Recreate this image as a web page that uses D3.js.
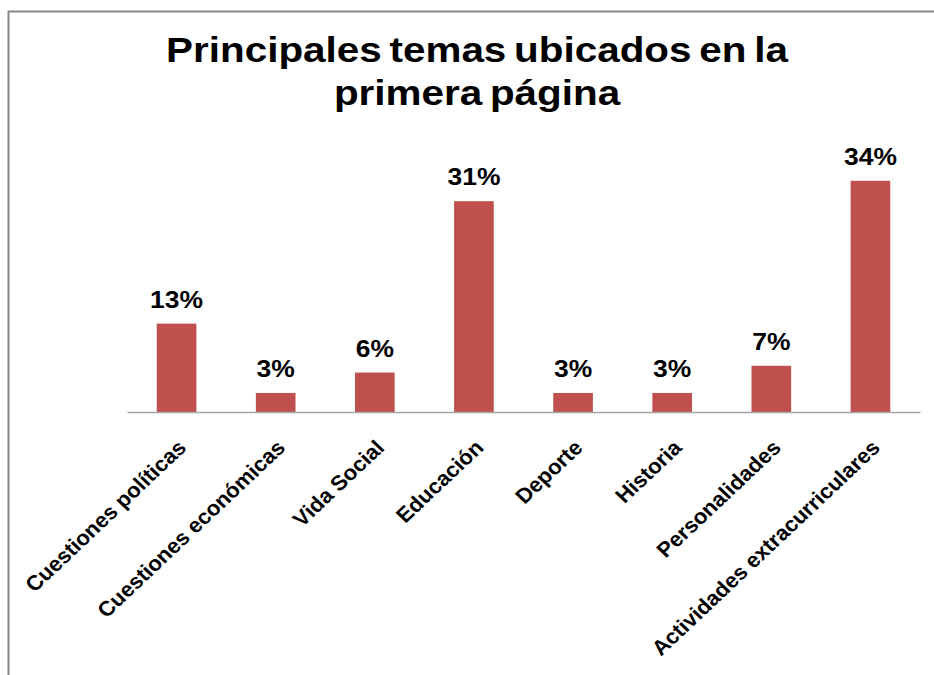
<!DOCTYPE html>
<html>
<head>
<meta charset="utf-8">
<title>Principales temas</title>
<script src="https://d3js.org/d3.v7.min.js"></script>
<style>
    body { margin: 0; padding: 0; background: #fff; font-family: Arial, "Liberation Sans", sans-serif; }
</style>
</head>
<body>
<div id="chart"></div>
<script>
    var categories = ["Cuestiones políticas", "Cuestiones económicas", "Vida Social", "Educación",
        "Deporte", "Historia", "Personalidades", "Actividades extracurriculares"]
    var values = [13, 2.8, 5.8, 31, 2.8, 2.8, 6.8, 34]
    var valueLabels = ["13%", "3%", "6%", "31%", "3%", "3%", "7%", "34%"]
    var titleLines = ["Principales temas ubicados en la", "primera página"]

    var W = 934, H = 675
    var margin = { top: 140, right: 14, bottom: 263, left: 127 }
    var width = W - margin.left - margin.right
    var height = H - margin.top - margin.bottom

    var svg = d3.select("#chart").append("svg")
        .attr("width", W)
        .attr("height", H)

    // outer frame (top + left only visible)
    svg.append("path")
        .attr("d", "M8.5," + H + "V11.5H" + W)
        .attr("fill", "none")
        .attr("stroke", "#868686")
        .attr("stroke-width", 2)

    svg.selectAll(".title")
        .data(titleLines)
        .enter()
        .append("text")
        .attr("transform", function (d, i) { return "translate(477," + (62 + i * 43) + ") scale(1.155,1)" })
        .attr("text-anchor", "middle")
        .attr("font-size", 35)
        .attr("font-weight", "bold")
        .attr("word-spacing", -3)
        .text(function (d) { return d })

    var g = svg.append("g")
        .attr("transform", "translate(" + margin.left + "," + margin.top + ")")

    var x = d3.scaleBand()
        .domain(categories)
        .range([0, width])
        .paddingInner(0.6)
        .paddingOuter(0.3)

    var y = d3.scaleLinear()
        .domain([0, 40])
        .range([height, 0])

    g.selectAll(".bar")
        .data(values)
        .enter()
        .append("rect")
        .attr("x", function (d, i) { return x(categories[i]) })
        .attr("y", function (d) { return y(d) })
        .attr("width", x.bandwidth())
        .attr("height", function (d) { return height - y(d) })
        .attr("fill", "#C0504D")

    g.selectAll(".vlabel")
        .data(values)
        .enter()
        .append("text")
        .attr("transform", function (d, i) {
            return "translate(" + (x(categories[i]) + x.bandwidth() / 2) + "," + (y(d) - 16) + ") scale(1.15,1)"
        })
        .attr("text-anchor", "middle")
        .attr("font-size", 23)
        .attr("font-weight", "bold")
        .text(function (d, i) { return valueLabels[i] })

    var xAxis = g.append("g")
        .attr("transform", "translate(0," + height + ")")
        .call(d3.axisBottom(x).tickSize(0).tickPadding(0))

    xAxis.select(".domain").attr("stroke", "#a6a6a6").attr("stroke-width", 1.5)
    xAxis.selectAll("text")
        .attr("font-size", 21)
        .attr("font-weight", "bold")
        .attr("font-family", "Arial, 'Liberation Sans', sans-serif")
        .attr("fill", "#000")
        .attr("text-anchor", "end")
        .attr("dy", 0)
        .attr("transform", "translate(" + (x.bandwidth() / 2 - 9) + ",37) scale(1.06,1) rotate(-45)")
</script>
</body>
</html>
